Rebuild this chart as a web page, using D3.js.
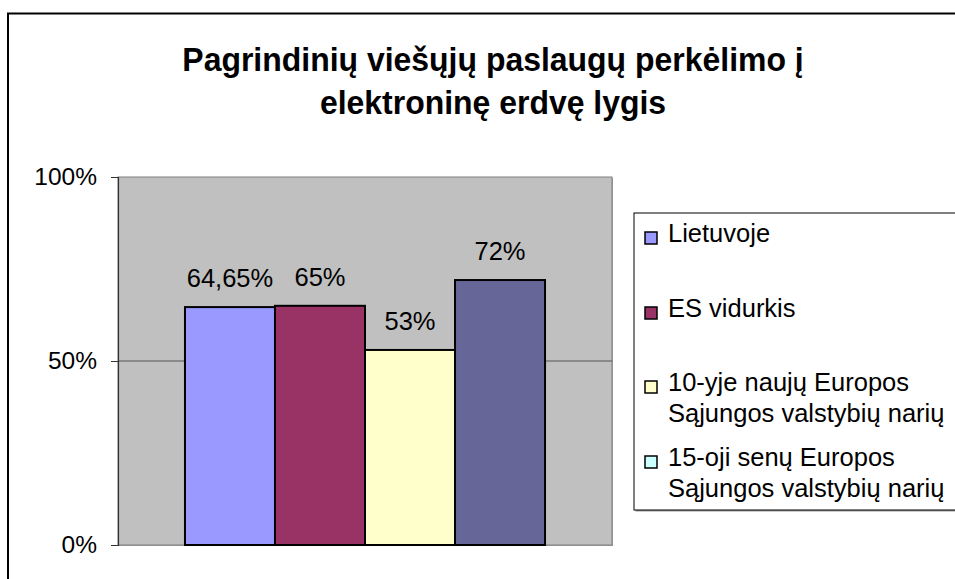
<!DOCTYPE html>
<html>
<head>
<meta charset="utf-8">
<script src="https://cdn.jsdelivr.net/npm/d3@7"></script>
<style>
  body { margin: 0; background: #fff; }
  text { font-family: "Liberation Sans", Arial, sans-serif; fill: #000; }
</style>
</head>
<body>
<div class="chart"></div>
<script>
// chart data
var titleLines = ["Pagrindinių viešųjų paslaugų perkėlimo į", "elektroninę erdvę lygis"];
var seriesNames = ["Lietuvoje", "ES vidurkis", "10-yje naujų Europos\nSąjungos valstybių narių", "15-oji senų Europos\nSąjungos valstybių narių"];
var seriesValues = [0.6465, 0.65, 0.53, 0.72];
var valueLabels = ["64,65%", "65%", "53%", "72%"];
var barColors = ["#9999FF", "#993366", "#FFFFCC", "#666699"];
var legendColors = ["#9999FF", "#993366", "#FFFFCC", "#CCFFFF"];
var yTicks = [0, 0.5, 1];

var svgWidth = 955;
var svgHeight = 579;

var margin = { top: 177, left: 118 };
var width = 494;
var height = 368;

var svg = d3.select(".chart")
  .append("svg")
  .attr("width", svgWidth)
  .attr("height", svgHeight);

// outer chart border (runs off right and bottom edge)
svg.append("path")
  .attr("d", "M8,600 V13.5 H960")
  .attr("fill", "none")
  .attr("stroke", "#000")
  .attr("stroke-width", 2);

// title, slightly condensed like the original
svg.append("g")
  .attr("transform", "translate(493, 0) scale(0.94, 1)")
  .append("text")
  .attr("text-anchor", "middle")
  .style("font-weight", "bold")
  .style("font-size", "34px")
  .selectAll("tspan")
  .data(titleLines)
  .enter()
  .append("tspan")
  .attr("x", 0)
  .attr("y", (d, i) => 71 + i * 43)
  .text(d => d);

var chartGroup = svg.append("g")
  .attr("transform", `translate(${margin.left}, ${margin.top})`);

// plot area
chartGroup.append("rect")
  .attr("x", 1)
  .attr("y", 1)
  .attr("width", width)
  .attr("height", height)
  .attr("fill", "#a0a0a0");
chartGroup.append("rect")
  .attr("width", width)
  .attr("height", height)
  .attr("fill", "#C0C0C0")
  .attr("stroke", "#808080")
  .attr("stroke-width", 1);

var yScale = d3.scaleLinear()
  .domain([0, 1])
  .range([height, 0]);

var x0 = d3.scaleBand()
  .domain(["all"])
  .range([0, width])
  .paddingInner(0)
  .paddingOuter(0.186);

var x1 = d3.scaleBand()
  .domain(d3.range(seriesValues.length))
  .range([0, x0.bandwidth()]);

// gridline at 50%
chartGroup.selectAll(".grid")
  .data(yTicks.filter(d => d > 0 && d < 1))
  .enter()
  .append("line")
  .attr("x1", 0)
  .attr("x2", width)
  .attr("y1", d => yScale(d))
  .attr("y2", d => yScale(d))
  .attr("stroke", "#555")
  .attr("stroke-width", 1);

// y axis
var leftAxis = d3.axisLeft(yScale)
  .tickValues(yTicks)
  .tickFormat(d3.format(".0%"))
  .tickSize(7)
  .tickPadding(14);

var yAxis = chartGroup.append("g").call(leftAxis);
yAxis.select(".domain").attr("stroke", "#333").attr("stroke-width", 1.2);
yAxis.selectAll(".tick line").attr("stroke", "#333");
yAxis.selectAll(".tick text")
  .style("font-size", "24.5px")
  .attr("fill", "#000");

// bars
var barsGroup = chartGroup.append("g")
  .attr("transform", `translate(${x0("all")}, 0)`);

barsGroup.selectAll("rect")
  .data(seriesValues)
  .enter()
  .append("rect")
  .attr("x", (d, i) => x1(i))
  .attr("y", d => yScale(d))
  .attr("width", x1.bandwidth())
  .attr("height", d => height - yScale(d))
  .attr("fill", (d, i) => barColors[i])
  .attr("stroke", "#000")
  .attr("stroke-width", 2);

// value labels
barsGroup.selectAll(".val")
  .data(seriesValues)
  .enter()
  .append("text")
  .attr("x", (d, i) => x1(i) + x1.bandwidth() / 2)
  .attr("y", d => yScale(d) - 20)
  .attr("text-anchor", "middle")
  .style("font-size", "25.5px")
  .text((d, i) => valueLabels[i]);

// legend
var legend = svg.append("g")
  .attr("transform", "translate(634, 213)");

legend.append("rect")
  .attr("x", 1.5)
  .attr("y", 1.5)
  .attr("width", 330)
  .attr("height", 297)
  .attr("fill", "#999");
legend.append("rect")
  .attr("width", 330)
  .attr("height", 297)
  .attr("fill", "#fff")
  .attr("stroke", "#000")
  .attr("stroke-width", 1);

var legendBaselines = [29, 104, 178, 253];

var items = legend.selectAll(".item")
  .data(seriesNames)
  .enter()
  .append("g")
  .attr("transform", (d, i) => `translate(0, ${legendBaselines[i]})`);

items.append("rect")
  .attr("x", 11)
  .attr("y", -10)
  .attr("width", 12)
  .attr("height", 12)
  .attr("fill", (d, i) => legendColors[i])
  .attr("stroke", "#000")
  .attr("stroke-width", 1.5);

items.append("text")
  .style("font-size", "25.5px")
  .selectAll("tspan")
  .data(d => d.split("\n"))
  .enter()
  .append("tspan")
  .attr("x", 34)
  .attr("y", (d, i) => i * 31)
  .text(d => d);
</script>
</body>
</html>
